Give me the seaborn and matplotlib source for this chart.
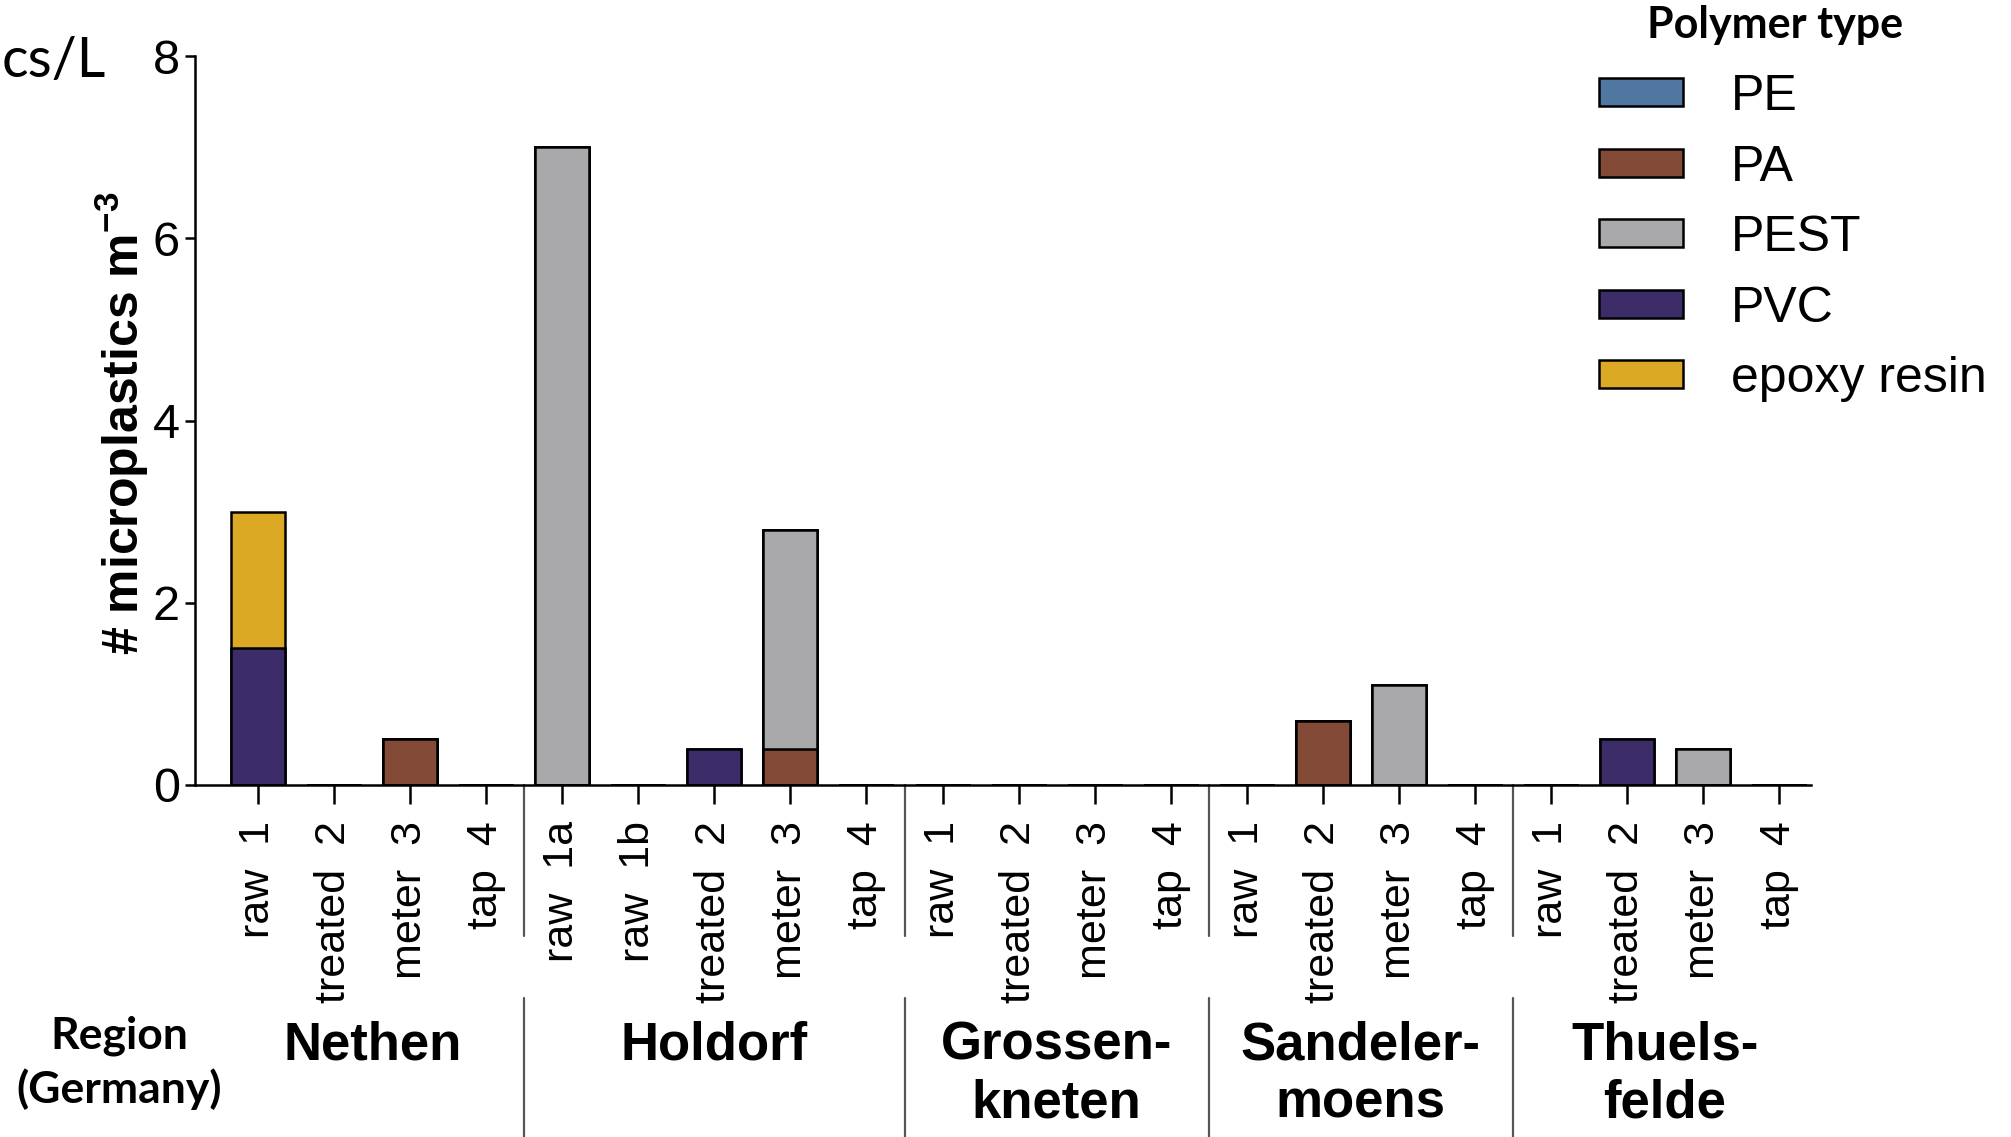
import numpy as np
import pandas as pd
import seaborn as sns
import matplotlib.pyplot as plt
from matplotlib.patches import Rectangle
from matplotlib.transforms import blended_transform_factory

# ---- data -------------------------------------------------------------
regions = ["Nethen", "Holdorf", "Grossen-\nkneten", "Sandeler-\nmoens", "Thuels-\nfelde"]
region_samples = [
    ["raw  1", "treated  2", "meter  3", "tap  4"],
    ["raw  1a", "raw  1b", "treated  2", "meter  3", "tap  4"],
    ["raw  1", "treated  2", "meter  3", "tap  4"],
    ["raw  1", "treated  2", "meter  3", "tap  4"],
    ["raw  1", "treated  2", "meter  3", "tap  4"],
]
polymers = ["PE", "PA", "PEST", "PVC", "epoxy resin"]
polymer_colors = ["#4f77a0", "#824a37", "#a9a9ab", "#3c2d69", "#dba923"]

# microplastics per m^3 for each sample, in the order of region_samples
pe    = [0, 0, 0, 0,   0, 0, 0, 0, 0,     0, 0, 0, 0,   0, 0, 0, 0,     0, 0, 0, 0]
pa    = [0, 0, 0.5, 0, 0, 0, 0, 0.4, 0,   0, 0, 0, 0,   0, 0.7, 0, 0,   0, 0, 0, 0]
pest  = [0, 0, 0, 0,   7.0, 0, 0, 2.4, 0, 0, 0, 0, 0,   0, 0, 1.1, 0,   0, 0, 0.4, 0]
pvc   = [1.5, 0, 0, 0, 0, 0, 0.4, 0, 0,   0, 0, 0, 0,   0, 0, 0, 0,     0, 0.5, 0, 0]
epoxy = [1.5, 0, 0, 0, 0, 0, 0, 0, 0,     0, 0, 0, 0,   0, 0, 0, 0,     0, 0, 0, 0]

# ---- table ------------------------------------------------------------
sample_ids, sample_labels = [], []
for reg, samples in zip(regions, region_samples):
    for s in samples:
        sample_ids.append(f"{reg}|{s}")
        sample_labels.append(s)

layers = np.array([pe, pa, pest, pvc, epoxy], dtype=float)
stacked = np.cumsum(layers, axis=0)  # top of each layer in the stack

# ---- style ------------------------------------------------------------
sns.set_style("ticks")
plt.rcParams["font.family"] = ["Liberation Sans", "DejaVu Sans"]
plt.rcParams["mathtext.fontset"] = "custom"
plt.rcParams["mathtext.rm"] = "Liberation Sans"
plt.rcParams["mathtext.bf"] = "Liberation Sans:bold"
plt.rcParams["mathtext.default"] = "bf"
for key in ("text.color", "axes.labelcolor", "xtick.color", "ytick.color",
            "axes.edgecolor"):
    plt.rcParams[key] = "black"

W, H = 2011, 1137
fig = plt.figure(figsize=(W / 100, H / 100), dpi=100)
ax_left, ax_right, ax_bottom, ax_top = 195, 1811, 785, 56
ax = fig.add_axes([ax_left / W, 1 - ax_bottom / H,
                   (ax_right - ax_left) / W, (ax_bottom - ax_top) / H])

# stacked bars: draw the cumulative totals from the top layer downwards
for k in range(len(polymers) - 1, -1, -1):
    d = pd.DataFrame({"sample": sample_ids, "value": stacked[k]})
    sns.barplot(data=d, x="sample", y="value", order=sample_ids,
                color=polymer_colors[k], saturation=1, edgecolor="black",
                linewidth=1.8, width=0.71, errorbar=None, ax=ax)

ax.set_xlim(-0.83, 20.42)
ax.set_ylim(0, 8)
ax.set_yticks([0, 2, 4, 6, 8])
ax.set_xticks(range(len(sample_ids)))
ax.set_xticklabels(sample_labels, rotation=90, fontsize=31)
ax.set_xlabel("")
ax.set_ylabel("")
ax.tick_params(axis="y", labelsize=35, length=7, width=1.8, pad=4)
ax.tick_params(axis="x", length=14, width=1.8, pad=12)
for side in ("top", "right"):
    ax.spines[side].set_visible(False)
for side in ("left", "bottom"):
    ax.spines[side].set_linewidth(1.8)

fig.text(122 / W, 1 - 423 / H, r"# microplastics m$^{-3}$", rotation=90,
         ha="center", va="center", fontsize=36, fontweight="bold")

# region separators and names under the sample labels
trans = blended_transform_factory(ax.transData, fig.transFigure)
starts = np.cumsum([0] + [len(s) for s in region_samples])
for i in range(1, len(regions)):
    xs = starts[i] - 0.5
    ax.plot([xs, xs], [1 - 785 / H, 1 - 936 / H], transform=trans,
            clip_on=False, color="#555555", lw=1.6)
    ax.plot([xs, xs], [1 - 998 / H, 0], transform=trans,
            clip_on=False, color="#555555", lw=1.6)

for i, reg in enumerate(regions):
    xc = (starts[i] + starts[i + 1] - 1) / 2
    for j, line in enumerate(reg.split("\n")):
        ax.text(xc, 1 - (1059 + 59 * j) / H, line, transform=trans,
                ha="center", va="baseline", fontsize=38, fontweight="bold")

fig.text(119 / W, 1 - 1049 / H, "Region", ha="center", va="baseline",
         fontsize=32, fontweight="bold", family=["Lato", "DejaVu Sans"])
fig.text(119 / W, 1 - 1103 / H, "(Germany)", ha="center", va="baseline",
         fontsize=32, fontweight="bold", family=["Lato", "DejaVu Sans"])
fig.text(2 / W, 1 - 77 / H, "cs/L", ha="left", va="baseline",
         fontsize=40, family=["Lato", "DejaVu Sans"])

# legend
fig.text(1775 / W, 1 - 38 / H, "Polymer type", ha="center", va="baseline",
         fontsize=31, fontweight="bold", family=["Lato", "DejaVu Sans"])
for k, (name, col) in enumerate(zip(polymers, polymer_colors)):
    yc = 92.3 + 70.5 * k
    fig.patches.append(Rectangle((1599 / W, 1 - (yc + 14) / H), 84 / W, 28 / H,
                                 transform=fig.transFigure, facecolor=col,
                                 edgecolor="black", linewidth=1.8))
    fig.text(1731 / W, 1 - (yc + 18) / H, name, ha="left", va="baseline",
             fontsize=36)

fig.savefig("out.png", dpi=100)
